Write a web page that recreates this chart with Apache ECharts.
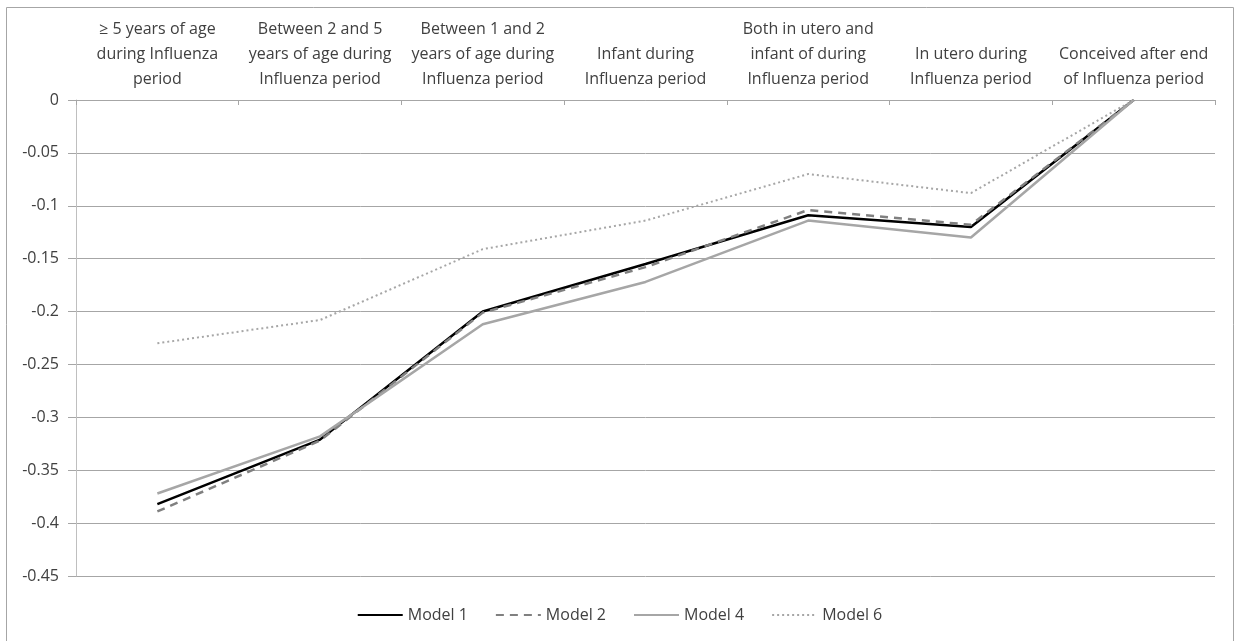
<!DOCTYPE html>
<html><head><meta charset="utf-8">
<script src="https://cdn.jsdelivr.net/npm/echarts@6/dist/echarts.min.js"></script>
<style>html,body{margin:0;padding:0;background:#fff}#c{width:1239px;height:641px}</style>
</head><body><div id="c"></div>
<script>
const categories = [
  "≥ 5 years of age\nduring Influenza\nperiod",
  "Between 2 and 5\nyears of age during\nInfluenza period",
  "Between 1 and 2\nyears of age during\nInfluenza period",
  "Infant during\nInfluenza period",
  "Both in utero and\ninfant of during\nInfluenza period",
  "In utero during\nInfluenza period",
  "Conceived after end\nof Influenza period"
];
const model1 = [-0.382, -0.321, -0.200, -0.155, -0.109, -0.120, 0];
const model2 = [-0.389, -0.322, -0.201, -0.158, -0.104, -0.118, 0];
const model4 = [-0.372, -0.318, -0.212, -0.172, -0.114, -0.130, 0];
const model6 = [-0.230, -0.208, -0.141, -0.114, -0.070, -0.088, 0];
const seriesNames = ["Model 1", "Model 2", "Model 4", "Model 6"];

const font = "'Open Sans', 'Noto Sans', sans-serif";
const chart = echarts.init(document.getElementById('c'));
chart.setOption({
  animation: false,
  textStyle: { fontFamily: font },
  graphic: [{ type: 'rect', shape: { x: 6.5, y: 7.5, width: 1227, height: 640 }, style: { fill: 'none', stroke: '#a6a6a6', lineWidth: 1 }, silent: true }],
  grid: { left: 76, right: 24, top: 100, bottom: 65 },
  legend: {
    bottom: 13, left: 'center',
    itemWidth: 45, itemHeight: 10, itemGap: 27,
    itemStyle: { opacity: 0 },
    textStyle: { fontSize: 16, color: '#404040', fontFamily: font },
    data: seriesNames
  },
  xAxis: {
    type: 'category', position: 'top', boundaryGap: true,
    data: categories,
    axisLine: { show: true, lineStyle: { color: '#a6a6a6', width: 1 } },
    axisTick: { show: true, inside: true, length: 5, lineStyle: { color: '#a6a6a6' } },
    axisLabel: { interval: 0, color: '#404040', fontSize: 16, lineHeight: 25, margin: 8, fontFamily: font }
  },
  yAxis: {
    type: 'value', min: -0.45, max: 0, interval: 0.05,
    axisLine: { show: true, lineStyle: { color: '#bfbfbf' } },
    axisTick: { show: true, length: 8, lineStyle: { color: '#a6a6a6' } },
    splitLine: { show: true, lineStyle: { color: '#a6a6a6', width: 1 } },
    axisLabel: { color: '#404040', fontSize: 16, margin: 17, fontFamily: font,
      formatter: v => { const r = Math.round(v * 100) / 100; return r === 0 ? '0' : String(r); } }
  },
  series: [
    { name: seriesNames[0], type: 'line', data: model1, symbol: 'none', lineStyle: { color: '#000000', width: 2.5 }, itemStyle: { color: '#000000' } },
    { name: seriesNames[1], type: 'line', data: model2, symbol: 'none', lineStyle: { color: '#808080', width: 2.5, type: [8, 6] }, itemStyle: { color: '#808080' } },
    { name: seriesNames[2], type: 'line', data: model4, symbol: 'none', lineStyle: { color: '#a6a6a6', width: 2.5 }, itemStyle: { color: '#a6a6a6' } },
    { name: seriesNames[3], type: 'line', data: model6, symbol: 'none', lineStyle: { color: '#a6a6a6', width: 2, type: [2, 3] }, itemStyle: { color: '#a6a6a6' } }
  ]
});
</script></body></html>
